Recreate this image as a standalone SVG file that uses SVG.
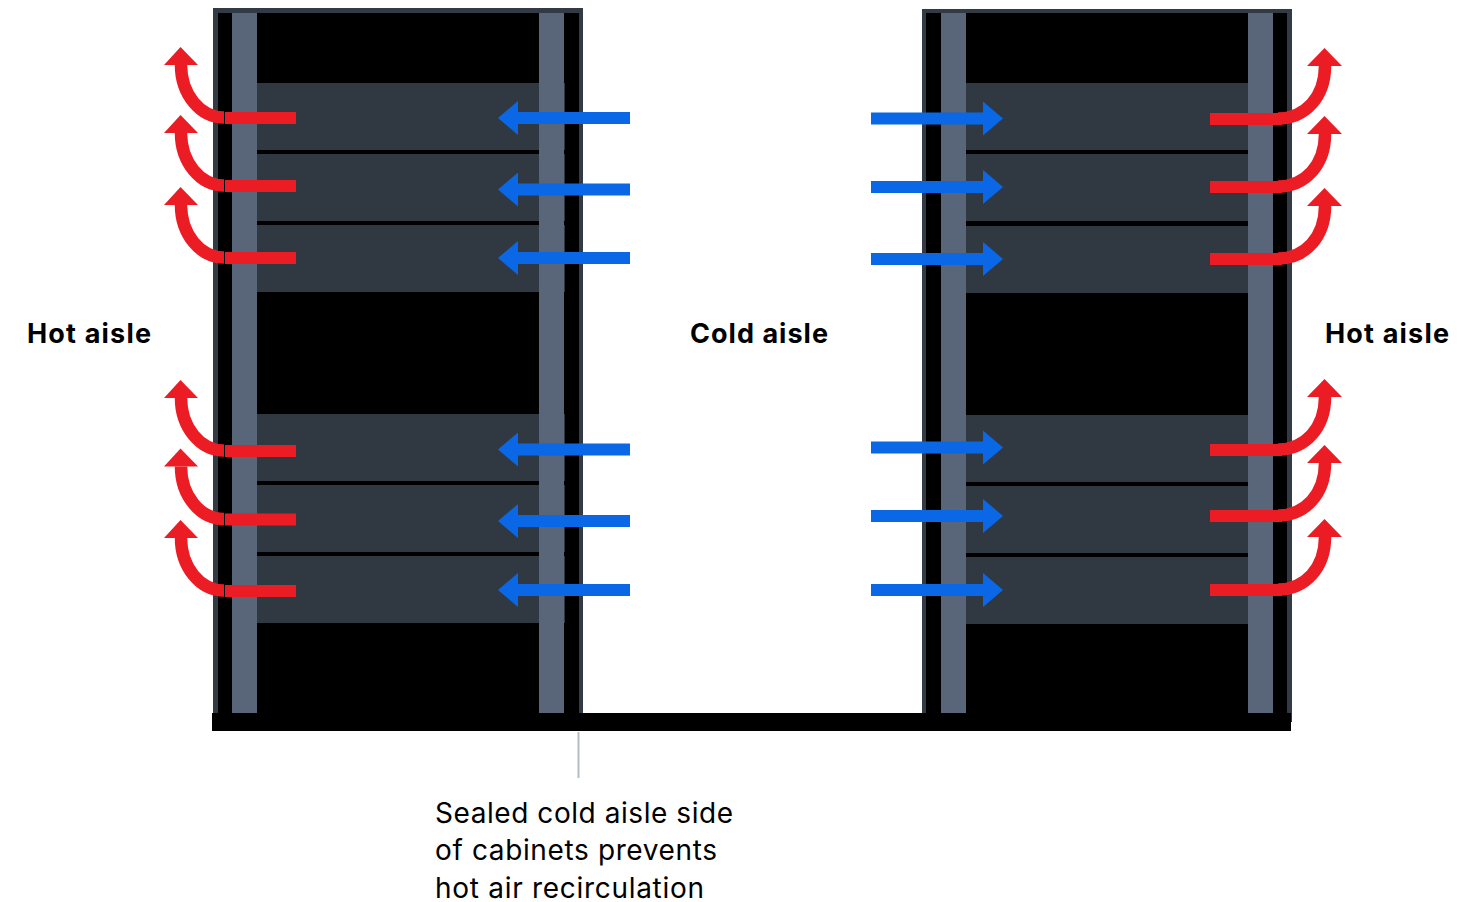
<svg xmlns="http://www.w3.org/2000/svg" width="1481" height="902" viewBox="0 0 1481 902">
<style>
.frame{fill:#323a45}.inner{fill:#000}.post{fill:#596579}.srv{fill:#303842}.floor{fill:#000}
.r{fill:none;stroke:#ec1c24;stroke-width:12.500}.rh{fill:#ec1c24}
.b{fill:#0a68e6}
text{font-family:"Inter","Liberation Sans",sans-serif;fill:#000}
.h{font-size:27px;font-weight:700}.n{font-size:28px;font-weight:400}
.lead{stroke:#b4bac6;stroke-width:2;fill:none}
</style>
<defs>
<g id="redL"><path class="r" d="M224-.500C200-.500 181-24 181-53"/><rect class="rh" x="225" y="-6" width="71" height="12"/><path class="rh" d="M180.500-71L198-53H164Z"/></g>
<g id="redR"><path class="r" d="M1278-.500C1305-.500 1325-22 1325-53"/><rect class="rh" x="1210" y="-6" width="72" height="12"/><path class="rh" d="M1324.500-71L1342-53H1307Z"/></g>
<path id="blueL" class="b" d="M630-6H518V-17L498 0L518 17V6H630Z"/>
<path id="blueR" class="b" d="M871-6H983V-17L1003 0L983 17V6H871Z"/>
</defs>
<g id="cabinet-left">
<rect class="frame" x="213" y="8" width="370" height="710"/>
<rect class="inner" x="218" y="13" width="361" height="705"/>
<rect class="srv" x="257" y="83" width="308" height="67"/>
<rect class="srv" x="257" y="154" width="308" height="67"/>
<rect class="srv" x="257" y="225" width="308" height="67"/>
<rect class="srv" x="257" y="414" width="308" height="67"/>
<rect class="srv" x="257" y="485" width="308" height="67"/>
<rect class="srv" x="257" y="556" width="308" height="67"/>
<rect class="post" x="232" y="13" width="25" height="700"/>
<rect class="post" x="539" y="13" width="25" height="700"/>
</g>
<g id="cabinet-right">
<rect class="frame" x="922" y="9" width="370" height="713"/>
<rect class="inner" x="926" y="13" width="361" height="705"/>
<rect class="srv" x="966" y="83" width="282" height="67"/>
<rect class="srv" x="966" y="154" width="282" height="67"/>
<rect class="srv" x="966" y="226" width="282" height="67"/>
<rect class="srv" x="966" y="415" width="282" height="67"/>
<rect class="srv" x="966" y="486" width="282" height="67"/>
<rect class="srv" x="966" y="557" width="282" height="67"/>
<rect class="post" x="941" y="13" width="25" height="700"/>
<rect class="post" x="1248" y="13" width="25" height="700"/>
</g>
<g id="floor"><rect class="floor" x="212" y="713" width="1079" height="18"/></g>
<g id="connectors">
<use href="#redL" y="118"/><use href="#redL" y="186"/><use href="#redL" y="258"/><use href="#redL" y="451"/><use href="#redL" y="519.500"/><use href="#redL" y="591"/>
<use href="#blueL" y="118"/><use href="#blueL" y="189.500"/><use href="#blueL" y="258"/><use href="#blueL" y="449.500"/><use href="#blueL" y="521"/><use href="#blueL" y="590"/>
<use href="#blueR" y="118.500"/><use href="#blueR" y="187"/><use href="#blueR" y="259"/><use href="#blueR" y="447.500"/><use href="#blueR" y="516"/><use href="#blueR" y="590"/>
<use href="#redR" y="119"/><use href="#redR" y="187"/><use href="#redR" y="259"/><use href="#redR" y="450"/><use href="#redR" y="516"/><use href="#redR" y="590"/>
<path class="lead" d="M578.500 732V778"/>
</g>
<g id="label-hot-left"><text class="h" x="27" y="343" textLength="124">Hot aisle</text></g>
<g id="label-cold"><text class="h" x="690" y="343" textLength="138">Cold aisle</text></g>
<g id="label-hot-right"><text class="h" x="1325" y="343" textLength="124">Hot aisle</text></g>
<g id="label-note">
<text class="n" x="435" y="823" textLength="298">Sealed cold aisle side</text>
<text class="n" x="435" y="860" textLength="282">of cabinets prevents</text>
<text class="n" x="435" y="898" textLength="269">hot air recirculation</text>
</g>
</svg>
